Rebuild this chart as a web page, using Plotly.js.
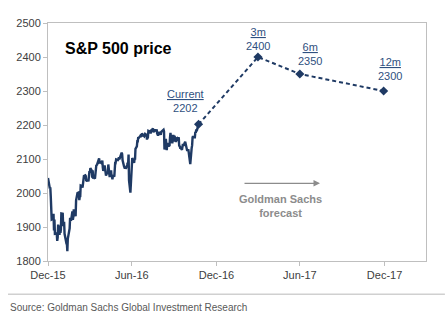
<!DOCTYPE html>
<html>
<head>
<meta charset="utf-8">
<script src="https://cdn.plot.ly/plotly-3.0.1.min.js"></script>
<style>html,body{margin:0;padding:0;background:#fff;}#chart{width:446px;height:330px;}</style>
</head>
<body>
<div id="chart"></div>
<script>
// S&P 500 daily closes
var histDates = ['2015-12-31','2016-01-04','2016-01-05','2016-01-06','2016-01-07','2016-01-08','2016-01-11','2016-01-12','2016-01-13','2016-01-14','2016-01-15','2016-01-19','2016-01-20','2016-01-21','2016-01-22','2016-01-25','2016-01-26','2016-01-27','2016-01-28','2016-01-29',
'2016-02-01','2016-02-02','2016-02-03','2016-02-04','2016-02-05','2016-02-08','2016-02-09','2016-02-10','2016-02-11','2016-02-12','2016-02-16','2016-02-17','2016-02-18','2016-02-19','2016-02-22','2016-02-23','2016-02-24','2016-02-25','2016-02-26','2016-02-29',
'2016-03-01','2016-03-02','2016-03-03','2016-03-04','2016-03-07','2016-03-08','2016-03-09','2016-03-10','2016-03-11','2016-03-14','2016-03-15','2016-03-16','2016-03-17','2016-03-18','2016-03-21','2016-03-22','2016-03-23','2016-03-24','2016-03-28','2016-03-29','2016-03-30','2016-03-31',
'2016-04-01','2016-04-04','2016-04-05','2016-04-06','2016-04-07','2016-04-08','2016-04-11','2016-04-12','2016-04-13','2016-04-14','2016-04-15','2016-04-18','2016-04-19','2016-04-20','2016-04-21','2016-04-22','2016-04-25','2016-04-26','2016-04-27','2016-04-28','2016-04-29',
'2016-05-02','2016-05-03','2016-05-04','2016-05-05','2016-05-06','2016-05-09','2016-05-10','2016-05-11','2016-05-12','2016-05-13','2016-05-16','2016-05-17','2016-05-18','2016-05-19','2016-05-20','2016-05-23','2016-05-24','2016-05-25','2016-05-26','2016-05-27','2016-05-31',
'2016-06-01','2016-06-02','2016-06-03','2016-06-06','2016-06-07','2016-06-08','2016-06-09','2016-06-10','2016-06-13','2016-06-14','2016-06-15','2016-06-16','2016-06-17','2016-06-20','2016-06-21','2016-06-22','2016-06-23','2016-06-24','2016-06-27','2016-06-28','2016-06-29','2016-06-30',
'2016-07-01','2016-07-05','2016-07-06','2016-07-07','2016-07-08','2016-07-11','2016-07-12','2016-07-13','2016-07-14','2016-07-15','2016-07-18','2016-07-19','2016-07-20','2016-07-21','2016-07-22','2016-07-25','2016-07-26','2016-07-27','2016-07-28','2016-07-29',
'2016-08-01','2016-08-02','2016-08-03','2016-08-04','2016-08-05','2016-08-08','2016-08-09','2016-08-10','2016-08-11','2016-08-12','2016-08-15','2016-08-16','2016-08-17','2016-08-18','2016-08-19','2016-08-22','2016-08-23','2016-08-24','2016-08-25','2016-08-26','2016-08-29','2016-08-30','2016-08-31',
'2016-09-01','2016-09-02','2016-09-06','2016-09-07','2016-09-08','2016-09-09','2016-09-12','2016-09-13','2016-09-14','2016-09-15','2016-09-16','2016-09-19','2016-09-20','2016-09-21','2016-09-22','2016-09-23','2016-09-26','2016-09-27','2016-09-28','2016-09-29','2016-09-30',
'2016-10-03','2016-10-04','2016-10-05','2016-10-06','2016-10-07','2016-10-10','2016-10-11','2016-10-12','2016-10-13','2016-10-14','2016-10-17','2016-10-18','2016-10-19','2016-10-20','2016-10-21','2016-10-24','2016-10-25','2016-10-26','2016-10-27','2016-10-28','2016-10-31',
'2016-11-01','2016-11-02','2016-11-03','2016-11-04','2016-11-07','2016-11-08','2016-11-09','2016-11-10','2016-11-11','2016-11-14','2016-11-15','2016-11-16','2016-11-17','2016-11-18','2016-11-21','2016-11-22'];
var histValues = [2044,2013,2017,1990,1943,1922,1924,1939,1890,1922,1880,1881,1859,1869,1907,1877,1904,1883,1893,1940,
1939,1903,1913,1915,1880,1853,1852,1852,1829,1865,1896,1927,1918,1918,1946,1921,1930,1952,1948,1932,
1978,1986,1993,2000,2002,1979,1989,1990,2022,2020,2016,2027,2041,2050,2052,2050,2037,2036,2037,2055,2064,2060,
2073,2066,2045,2067,2042,2048,2042,2062,2082,2083,2081,2094,2101,2102,2091,2092,2088,2092,2095,2076,2065,
2081,2063,2051,2051,2057,2059,2084,2064,2064,2047,2067,2047,2048,2040,2052,2048,2076,2091,2090,2099,2097,
2099,2105,2099,2109,2112,2119,2115,2096,2079,2075,2072,2078,2071,2083,2089,2085,2113,2037,2001,2036,2071,2099,
2103,2089,2100,2098,2130,2137,2152,2152,2164,2162,2167,2164,2173,2165,2175,2168,2169,2167,2170,2174,
2171,2157,2164,2164,2183,2181,2182,2175,2186,2184,2190,2178,2182,2187,2184,2183,2187,2175,2172,2169,2180,2176,2171,
2171,2180,2186,2186,2181,2128,2159,2127,2126,2147,2139,2139,2140,2163,2177,2165,2146,2160,2171,2151,2168,
2161,2150,2160,2161,2154,2164,2137,2139,2133,2133,2127,2140,2144,2141,2141,2151,2143,2139,2133,2126,2126,
2112,2098,2089,2085,2132,2140,2163,2167,2164,2164,2180,2177,2187,2182,2198,2203];

// Goldman Sachs forecast
var fcDates = ['2016-11-22','2017-03-31','2017-06-30','2017-12-29'];
var fcValues = [2202,2400,2350,2300];
var fcLabels = ['Current','3m','6m','12m'];

var tickVals = ['2015-12-31','2016-06-30','2016-12-31','2017-06-30','2017-12-31'];
var tickText = ['Dec-15','Jun-16','Dec-16','Jun-17','Dec-17'];

var navy = '#1f3a64';
var labelColor = '#2f5080';
var sans = 'Arial, "Liberation Sans", sans-serif';

var traces = [
  {x: histDates, y: histValues, type: 'scatter', mode: 'lines',
   line: {color: navy, width: 2.4}, hoverinfo: 'skip'},
  {x: fcDates, y: fcValues, type: 'scatter', mode: 'lines+markers',
   line: {color: navy, width: 2, dash: '4px,3px'},
   marker: {symbol: 'diamond', size: 7, color: navy}, hoverinfo: 'skip'}
];

var shifts = [[-13, 8], [0, 3], [10, 5], [6, 7]];
var annotations = fcDates.map(function (d, i) {
  return {x: d, y: fcValues[i], xref: 'x', yref: 'y', showarrow: false,
    text: '<u>' + fcLabels[i] + '</u><br>' + fcValues[i],
    xanchor: 'center', yanchor: 'bottom', xshift: shifts[i][0], yshift: shifts[i][1],
    font: {family: sans, size: 11, color: labelColor}, align: 'center'};
});

annotations.push({xref: 'paper', yref: 'paper', x: 0.7196, y: 0.3265, ax: -77, ay: 0,
  text: '', showarrow: true, arrowhead: 2, arrowsize: 1, arrowwidth: 1.3, arrowcolor: '#8c8c8c'});
annotations.push({xref: 'paper', yref: 'paper', x: 0.616, y: 0.232, showarrow: false,
  text: '<b>Goldman Sachs<br>forecast</b>', xanchor: 'center', yanchor: 'middle',
  font: {family: sans, size: 11, color: '#8c8c8c'}});
annotations.push({xref: 'paper', yref: 'paper', x: -0.1058, y: -0.1945, showarrow: false,
  text: 'Source: Goldman Sachs Global Investment Research', xanchor: 'left', yanchor: 'middle',
  font: {family: sans, size: 10, color: '#595959'}});

var layout = {
  width: 446, height: 330,
  margin: {l: 48, r: 20, t: 23, b: 69},
  paper_bgcolor: '#fff', plot_bgcolor: '#fff',
  showlegend: false,
  title: {text: '<b>S&P 500 price</b>', xref: 'paper', x: 0.045, xanchor: 'left',
    yref: 'container', y: 0.852, yanchor: 'middle',
    font: {family: sans, size: 16, color: '#000'}},
  xaxis: {type: 'date', range: ['2015-12-31', '2018-03-31'], tickmode: 'array',
    tickvals: tickVals, ticktext: tickText, showgrid: false, zeroline: false,
    showline: true, mirror: true, linecolor: '#bfbfbf', linewidth: 1,
    ticks: 'outside', ticklen: 4, tickcolor: '#bfbfbf',
    tickfont: {family: sans, size: 11, color: '#404040'}},
  yaxis: {range: [1800, 2500], dtick: 100, tick0: 1800, showgrid: false, zeroline: false,
    showline: true, mirror: true, linecolor: '#bfbfbf', linewidth: 1,
    ticks: 'outside', ticklen: 4, tickcolor: '#bfbfbf',
    tickfont: {family: sans, size: 11, color: '#404040'}},
  shapes: [{type: 'line', xref: 'paper', yref: 'paper', x0: -0.1058, x1: 1.05, y0: -0.14, y1: -0.14,
    line: {color: '#d0d0d0', width: 1.5}}],
  annotations: annotations
};

Plotly.newPlot('chart', traces, layout, {displayModeBar: false, staticPlot: true});
</script>
</body>
</html>
